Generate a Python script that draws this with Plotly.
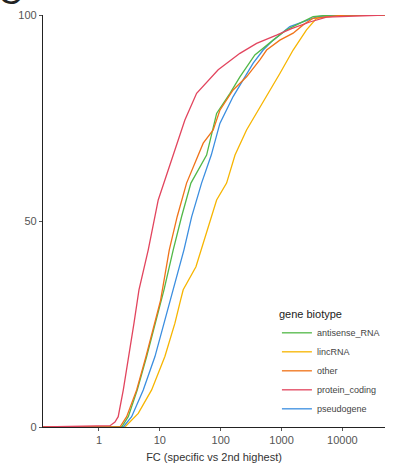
import plotly.graph_objects as go

# ---- data (FC value, cumulative %) ----
protein_coding_fc = [0.12, 0.374, 1.52, 1.83, 2.07, 2.51, 3.11, 3.76, 4.54, 6.45, 9.41, 15.6, 25.8, 40.2, 91, 207, 389, 828, 1459, 2917, 5480, 49700]
protein_coding_pct = [0.0, 0.1, 0.32, 1.2, 2.5, 9.0, 17.1, 25.2, 33.3, 43.0, 55.1, 64.8, 74.5, 81.0, 86.7, 90.7, 93.1, 95.1, 96.7, 98.3, 99.5, 100]

other_fc = [0.12, 2.21, 2.85, 4.16, 5.91, 8.31, 10.3, 14.3, 19.3, 27.5, 40.2, 51.6, 75.3, 97, 160, 266, 440, 568, 938, 1550, 2265, 3300, 10900, 49700]
other_pct = [0.0, 0.0, 2.5, 9.0, 17.1, 25.2, 30.8, 43.0, 51.1, 59.2, 64.8, 68.9, 72.1, 76.9, 81.8, 85.0, 89.1, 91.5, 93.9, 95.6, 97.6, 99.2, 100, 100]

antisense_fc = [0.12, 2.36, 3.03, 4.26, 6.07, 8.53, 10.7, 11.7, 16.6, 22.8, 32.4, 58.7, 85.7, 142, 207, 364, 728, 1208, 3300, 6180, 49700]
antisense_pct = [0.0, 0.0, 2.5, 9.0, 17.1, 25.2, 30.8, 33.3, 43.0, 51.1, 59.2, 66.0, 76.1, 81.0, 85.0, 90.3, 93.9, 96.4, 99.6, 100, 100]

pseudogene_fc = [0.12, 2.51, 3.44, 5.34, 8.31, 11.7, 14.7, 17.7, 24.9, 33.3, 48.5, 70, 97, 160, 234, 342, 499, 728, 1368, 2265, 3900, 8000, 49700]
pseudogene_pct = [0.0, 0.0, 2.5, 9.0, 17.1, 25.2, 30.8, 34.9, 43.0, 51.0, 59.2, 66.0, 73.7, 80.2, 84.2, 88.3, 91.5, 93.9, 97.2, 98.4, 99.6, 100, 100]

lincrna_fc = [0.12, 2.67, 4.42, 7.33, 12.1, 17.7, 21.9, 24.2, 39.2, 58.7, 85.7, 125, 172, 266, 568, 938, 1550, 2572, 3756, 6500, 49700]
lincrna_pct = [0.0, 0.0, 3.3, 9.0, 17.1, 25.2, 30.8, 33.3, 38.9, 47.0, 55.1, 59.2, 66.0, 72.1, 80.2, 85.8, 91.5, 96.4, 99.2, 100, 100]

series = [
    ("antisense_RNA", antisense_fc, antisense_pct, "#52b848"),
    ("lincRNA", lincrna_fc, lincrna_pct, "#f7b500"),
    ("other", other_fc, other_pct, "#f07318"),
    ("protein_coding", protein_coding_fc, protein_coding_pct, "#e2455e"),
    ("pseudogene", pseudogene_fc, pseudogene_pct, "#3b8ee0"),
]
draw_order = ["lincRNA", "pseudogene", "antisense_RNA", "other", "protein_coding"]

x_tickvals = [1, 10, 100, 1000, 10000]
x_ticktext = ["1", "10", "100", "1000", "10000"]
y_tickvals = [0, 50, 100]

fig = go.Figure()
names = [s[0] for s in series]
lookup = {s[0]: s for s in series}
for name in draw_order:
    n, fx, py, col = lookup[name]
    fig.add_trace(go.Scatter(
        x=fx, y=py, mode="lines", name=n,
        line=dict(color=col, width=1.3),
        legendrank=names.index(n) + 1,
        cliponaxis=False,
    ))

font_family = "Liberation Sans, Arial, sans-serif"
fig.update_layout(
    width=398, height=472,
    margin=dict(l=43, r=13, t=15, b=45, autoexpand=False),
    paper_bgcolor="white", plot_bgcolor="white",
    font=dict(family=font_family, size=11, color="#555555"),
    showlegend=True,
    legend=dict(
        title=dict(text="gene biotype", font=dict(size=11, color="#222222")),
        x=0.684, y=0.2985, xanchor="left", yanchor="top",
        font=dict(size=9, color="#444444"),
        bgcolor="rgba(0,0,0,0)",
        itemwidth=30,
        tracegroupgap=0,
    ),
    xaxis=dict(
        type="log", range=[-0.92, 4.70],
        tickvals=x_tickvals, ticktext=x_ticktext,
        showgrid=False, zeroline=False,
        showline=True, linecolor="#222222", linewidth=1.2,
        ticks="outside", ticklen=3, tickcolor="#555555",
        tickfont=dict(size=11, color="#555555"),
        title=dict(text="FC (specific vs 2nd highest)", font=dict(size=11, color="#333333"), standoff=8),
    ),
    yaxis=dict(
        range=[0, 100],
        tickvals=y_tickvals,
        showgrid=False, zeroline=False,
        showline=True, linecolor="#222222", linewidth=1.2,
        ticks="outside", ticklen=3, tickcolor="#555555",
        tickfont=dict(size=11, color="#555555"),
    ),
    annotations=[dict(
        text="C", xref="paper", yref="paper", x=-0.138, y=1.006,
        xanchor="left", yanchor="bottom", showarrow=False,
        font=dict(size=34, color="#222222", family=font_family),
    )],
)

fig.write_html("out.html")
